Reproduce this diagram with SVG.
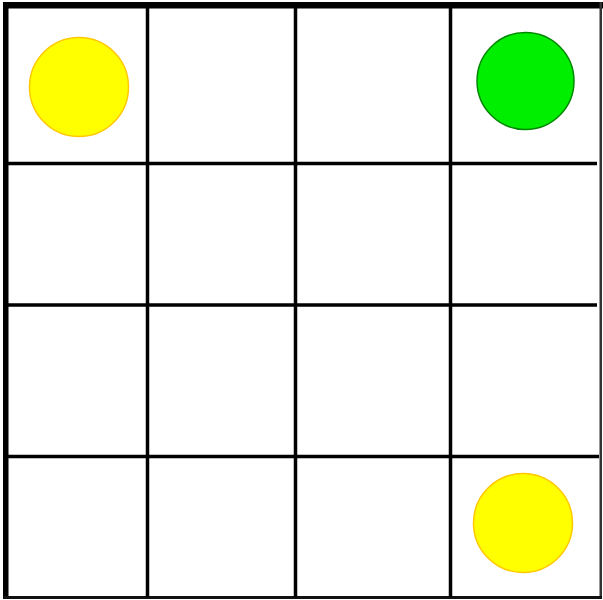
<svg xmlns="http://www.w3.org/2000/svg" width="603" height="600" viewBox="0 0 603 600">
<style>
.g{stroke:#000;stroke-width:3.5;fill:none}
.y{fill:#ffff00;stroke:#ffc800;stroke-width:1.5}
.gr{fill:#00ee00;stroke:#008800;stroke-width:1.5}
</style>
<rect width="603" height="600" fill="#fff"/>
<g id="grid">
<rect x="3" y="2" width="5.5" height="597" fill="#000"/>
<rect x="3" y="2" width="600" height="6.5" fill="#000"/>
<rect x="599.5" y="2" width="2.5" height="597" fill="#333"/>
<rect x="3" y="596" width="599" height="3" fill="#111"/>
<line class="g" x1="147.5" y1="8" x2="147.5" y2="597"/>
<line class="g" x1="295.5" y1="8" x2="295.5" y2="597"/>
<line class="g" x1="450.5" y1="8" x2="450.5" y2="597"/>
<line class="g" x1="8" y1="163.5" x2="597" y2="163.5"/>
<line class="g" x1="8" y1="305" x2="597" y2="305"/>
<line class="g" x1="8" y1="456.5" x2="599" y2="456.5"/>
</g>
<g id="yellow1"><circle class="y" cx="79" cy="87" r="49.5"/></g>
<g id="green"><circle class="gr" cx="525.5" cy="81" r="48.5"/></g>
<g id="yellow2"><circle class="y" cx="523" cy="523" r="49.5"/></g>
</svg>
